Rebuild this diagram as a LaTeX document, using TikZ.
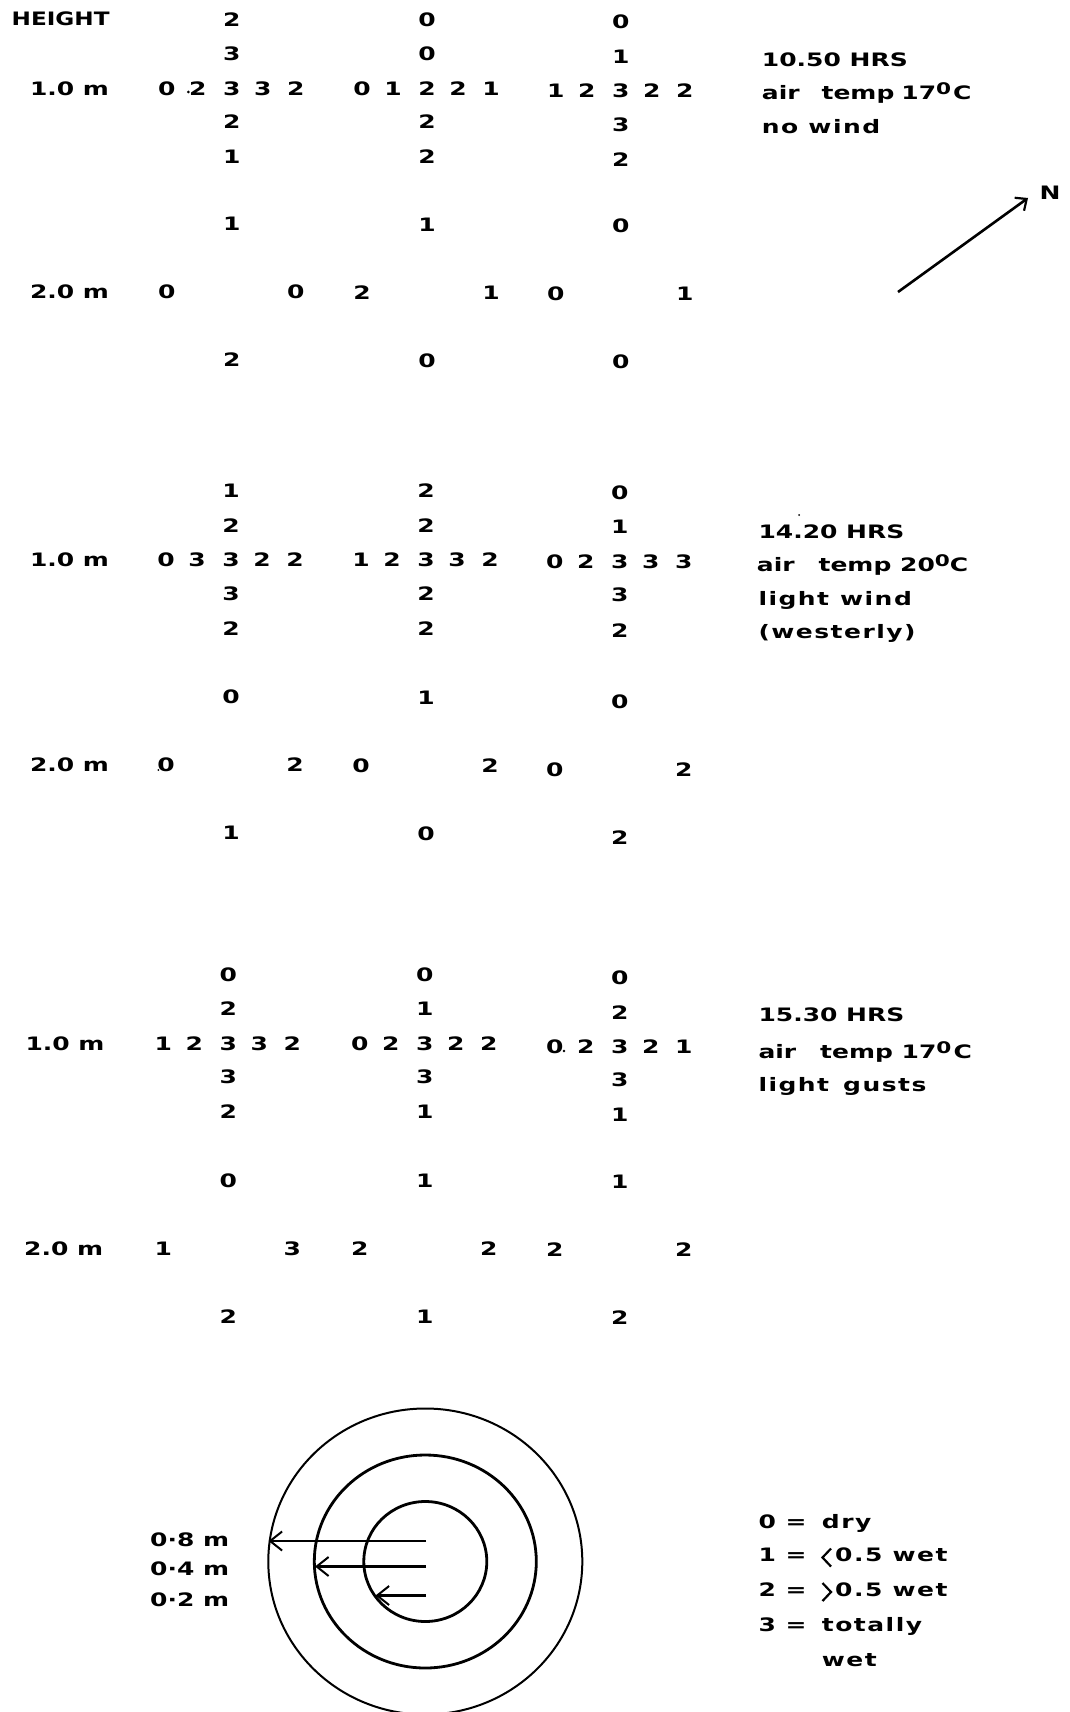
\documentclass[tikz,border=0pt]{standalone}
\usepackage{fontspec}
\setmainfont{DejaVu Sans}
\newfontfamily\fw{DejaVu Sans}[FakeStretch=1.35]
\newfontfamily\fws{DejaVu Sans}[FakeStretch=1.35,LetterSpace=8]
\newfontfamily\fh{DejaVu Sans}[FakeStretch=1.25]
\usetikzlibrary{arrows.meta}
\tikzset{
 dg/.style={inner sep=0pt, anchor=center, font=\fw\bfseries\fontsize{18.5}{20}\selectfont},
 lbl/.style={inner sep=0pt, anchor=west, font=\fw\bfseries\fontsize{18.5}{20}\selectfont},
 info/.style={inner sep=0pt, anchor=base west, font=\fw\bfseries\fontsize{18.5}{20}\selectfont},
 infos/.style={inner sep=0pt, anchor=base west, font=\fws\bfseries\fontsize{18.5}{20}\selectfont},
 eqs/.style={inner sep=0pt, anchor=base, font=\fw\bfseries\fontsize{18.5}{20}\selectfont},
 brk/.style={line width=2.2pt, line join=miter},
 ringthin/.style={line width=2pt},
 ringthick/.style={line width=2.8pt},
 arr/.style={line width=2.2pt, -{Straight Barb[length=12pt,width=19pt,line width=2pt]}},
 narr/.style={line width=2.6pt, -{Straight Barb[length=9pt,width=16pt,line width=2.2pt]}},
}
\newcommand\degsup{\raisebox{5pt}{\fontsize{16}{16}\selectfont 0}}
% #1 name, #2 gx, #3 cy (1.0 m), #4 cy2 (2.0 m), #5 vertical list, #6 horizontal list, #7 2.0 m list
\newcommand\grp[7]{%
 \foreach \v [count=\k] in {#5}{%
   \pgfmathsetmacro\yy{#3+{-69,-34.5,0,33.5,68.5}[\k-1]}%
   \node[dg] (#1v\k) at (#2,\yy) {\v};}
 \foreach \v [count=\k] in {#6}{%
   \pgfmathsetmacro\xx{#2+{-65,-34,31,64}[\k-1]}%
   \node[dg] (#1h\k) at (\xx,#3) {\v};}
 \foreach \v [count=\k] in {#7}{%
   \pgfmathsetmacro\xx{#2+{0,-65,64,0}[\k-1]}%
   \pgfmathsetmacro\yy{#4+{-68,0,0,68}[\k-1]}%
   \node[dg] (#1w\k) at (\xx,\yy) {\v};}
}
\begin{document}
\begin{tikzpicture}[x=1pt,y=-1pt]
\path[use as bounding box] (0,0) rectangle (1069,1712);
\fill[white] (0,0) rectangle (1069,1712);

\node[lbl, font=\fh\bfseries\fontsize{18.5}{20}\selectfont] (height) at (11.5,18.5) {HEIGHT};
\node[lbl] (s1a) at (29.8,88.5) {1.0 m};
\node[lbl] (s1b) at (29.8,291.7) {2.0 m};
\node[lbl] (s2a) at (29.8,560) {1.0 m};
\node[lbl] (s2b) at (29.8,765) {2.0 m};
\node[lbl] (s3a) at (25.3,1043.3) {1.0 m};
\node[lbl] (s3b) at (24,1248.3) {2.0 m};

\grp{a}{231.8}{88.5}{291.7}{2,3,3,2,1}{0,2,3,2}{1,0,0,2}
\grp{b}{427.0}{88.5}{292.5}{0,0,2,2,2}{0,1,2,1}{1,2,1,0}
\grp{c}{620.8}{91}{293.3}{0,1,3,3,2}{1,2,2,2}{0,0,1,0}
\grp{d}{231.0}{560}{765}{1,2,3,3,2}{0,3,2,2}{0,0,2,1}
\grp{e}{426.1}{560}{766}{2,2,3,2,2}{1,2,3,2}{1,0,2,0}
\grp{f}{619.9}{561.7}{770}{0,1,3,3,2}{0,2,3,3}{0,0,2,2}
\grp{g}{228.2}{1043.3}{1248.3}{0,2,3,3,2}{1,2,3,2}{0,1,3,2}
\grp{h}{424.7}{1043.3}{1249}{0,1,3,3,1}{0,2,2,2}{1,2,2,1}
\grp{i}{619.9}{1046.7}{1250}{0,2,3,3,1}{0,2,2,1}{1,2,2,2}

% small printed dots
\fill (188.3,92) circle (1.5pt);
\fill (564,1051) circle (1.3pt);
\fill (158.4,770) circle (1pt);
\fill (799,515) circle (1pt);

% time / weather notes
\node[info] (t1a) at (761.7,66.7) {10.50 HRS};
\node[info] (t1b) at (761.7,100) {air\hspace{22pt}temp\hspace{7pt}17\degsup\hspace{2pt}C};
\node[infos] (t1c) at (761.7,133.3) {no wind};

\node[info] (t2a) at (758.3,538.3) {14.20 HRS};
\node[info] (t2b) at (756.7,571.7) {air\hspace{24pt}temp 20\degsup C};
\node[infos] (t2c) at (758.3,605) {light\hspace{11pt}wind};
\node[infos] (t2d) at (758.3,638) {(westerly)};

\node[info] (t3a) at (758.3,1021.7) {15.30 HRS};
\node[info] (t3b) at (758.3,1058.3) {air\hspace{24pt}temp 17\degsup\hspace{2pt}C};
\node[infos] (t3c) at (758.3,1091.7) {light\hspace{14pt}gusts};

% north arrow
\coordinate (ns) at (898,292);
\coordinate (ne) at (1028,198);
\draw[narr] (ns) -- (ne);
\node[dg] (N) at (1050,193) {N};

% rings
\coordinate (ctr) at (425.3,1561.5);
\draw[ringthick] (ctr) ellipse [x radius=61.5pt, y radius=60pt];
\draw[ringthick] (ctr) ellipse [x radius=111pt, y radius=106.5pt];
\draw[ringthin] (ctr) ellipse [x radius=157pt, y radius=153pt];

\coordinate (a1s) at (426,1541);  \coordinate (a1e) at (268.5,1541);
\coordinate (a2s) at (426,1566.5);  \coordinate (a2e) at (315,1566.5);
\coordinate (a3s) at (426,1595.5);  \coordinate (a3e) at (375.5,1595.5);
\draw[arr] (a1s) -- (a1e);
\draw[arr] (a2s) -- (a2e);
\draw[arr] (a3s) -- (a3e);

\node[lbl] (r8) at (150,1540) {0·8 m};
\node[lbl] (r4) at (150,1568.3) {0·4 m};
\node[lbl] (r2) at (150,1599.3) {0·2 m};

% key
\node[info] (k0) at (758.3,1528.3) {0};
\node[info] (k1) at (758.3,1561.7) {1};
\node[info] (k2) at (758.3,1596.7) {2};
\node[info] (k3) at (758.3,1631.7) {3};
\node[eqs] (e0) at (796,1528.3) {=};
\node[eqs] (e1) at (796,1561.7) {=};
\node[eqs] (e2) at (796,1596.7) {=};
\node[eqs] (e3) at (796,1631.7) {=};
\node[infos] (v0) at (821.7,1528.3) {dry};
\draw[brk] (831,1548.5) -- (822.5,1557.5) -- (831,1566.5);
\node[infos] (v1) at (835,1561.7) {0.5 wet};
\draw[brk] (822.5,1583) -- (831,1592) -- (822.5,1601);
\node[infos] (v2) at (835,1596.7) {0.5 wet};
\node[infos] (v3) at (821.7,1631.7) {totally};
\node[infos] (v4) at (821.7,1666.7) {wet};
\end{tikzpicture}
\end{document}
